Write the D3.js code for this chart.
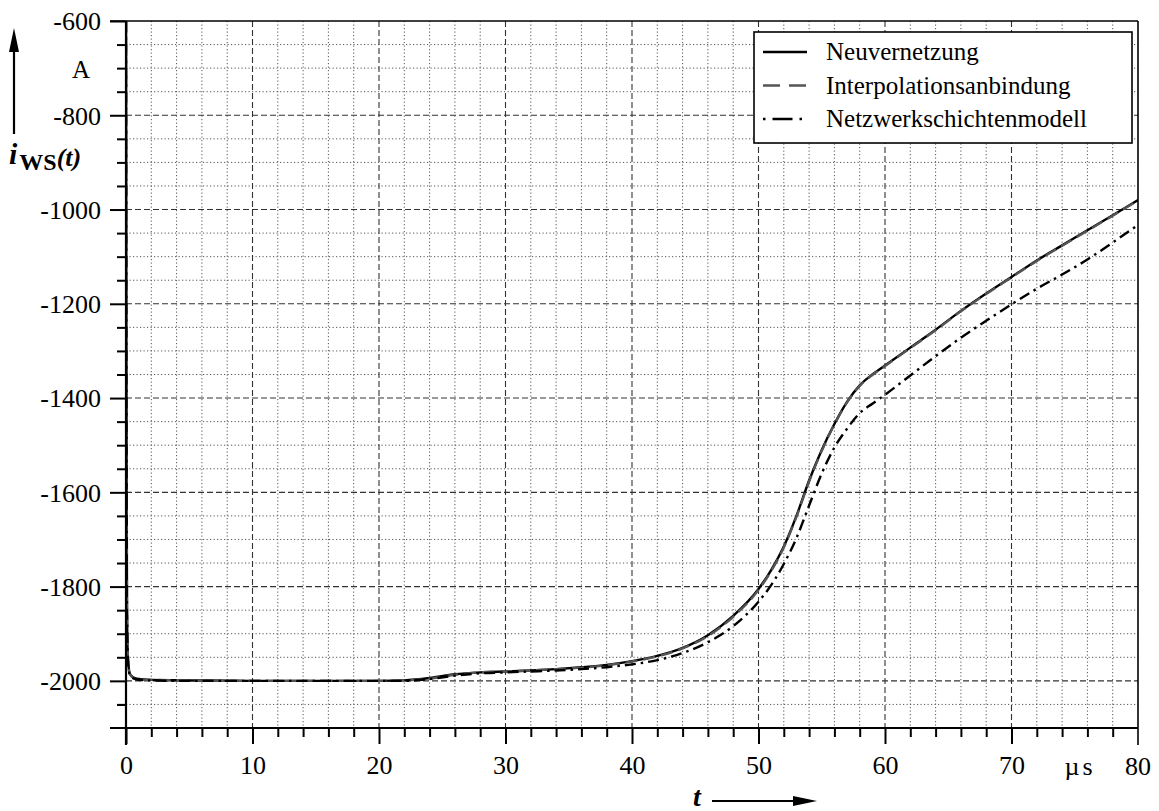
<!DOCTYPE html>
<html>
<head>
<meta charset="utf-8">
<script src="https://cdn.jsdelivr.net/npm/d3@7"></script>
<style>
  html, body { margin: 0; padding: 0; background: #fff; }
  svg { display: block; }
  svg text { font-family: "Liberation Serif", "DejaVu Serif", serif !important; fill: #000; }
</style>
</head>
<body>
<svg id="chart" width="1159" height="811"></svg>
<script>
// Time axis in µs, current in A
const timeTicks = [0, 10, 20, 30, 40, 50, 60, 70];
const currentTicks = [-600, -800, -1000, -1200, -1400, -1600, -1800, -2000];
const seriesNames = ["Neuvernetzung", "Interpolationsanbindung", "Netzwerkschichtenmodell"];

const tValues = [0, 0.03, 0.08, 0.15, 0.3, 0.6, 1, 2, 5, 10, 15, 20, 22, 24, 26, 28, 30, 32, 34, 36, 38, 40,
  42, 44, 46, 48, 50, 51, 52, 53, 54, 55, 56, 57, 58, 59, 60, 62, 64, 66, 68, 70, 72, 74, 76, 78, 80];

const neuvernetzung = [-600, -1300, -1850, -1950, -1985, -1993, -1996, -1998, -1999, -2000, -2000, -2000,
  -1999, -1994, -1986, -1982, -1980, -1978, -1975, -1971, -1966, -1958,
  -1947, -1930, -1903, -1862, -1805, -1765, -1715, -1650, -1575, -1510, -1455, -1408, -1373, -1350, -1331,
  -1293, -1255, -1215, -1178, -1143, -1108, -1076, -1044, -1012, -980];

const interpolationsanbindung = [-600, -1310, -1855, -1952, -1986, -1994, -1997, -1998, -1999, -2000, -2000, -2000,
  -1999, -1995, -1987, -1982, -1980, -1978, -1975, -1972, -1967, -1959,
  -1948, -1931, -1905, -1864, -1807, -1767, -1717, -1652, -1577, -1512, -1456, -1409, -1374, -1351, -1332,
  -1294, -1256, -1216, -1179, -1144, -1109, -1077, -1045, -1013, -981];

const netzwerkschichtenmodell = [-600, -1320, -1860, -1955, -1987, -1995, -1998, -1999, -2000, -2000, -2000, -2000,
  -2000, -1996, -1989, -1984, -1982, -1980, -1978, -1975, -1971, -1965,
  -1956, -1941, -1918, -1884, -1832, -1797, -1752, -1697, -1628, -1560, -1505, -1465, -1432, -1412, -1393,
  -1352, -1311, -1272, -1236, -1201, -1168, -1138, -1106, -1070, -1033];

const svg = d3.select("#chart");
const x = d3.scaleLinear().domain([0, 80]).range([126, 1138]);
const y = d3.scaleLinear().domain([-2100, -600]).range([728, 21]);
const [x0, x1] = x.range();
const [y0, y1] = y.range();
const serif = "Liberation Serif";

// Grid: dotted minor lines, dashed major lines
const grid = svg.append("g");
const minorX = d3.range(2, 80, 2).filter(v => v % 10 !== 0);
const minorY = d3.range(-2050, -600, 50).filter(v => v % 200 !== 0);
grid.selectAll(".mx").data(minorX).join("line")
  .attr("x1", d => x(d)).attr("x2", d => x(d)).attr("y1", y1).attr("y2", y0)
  .attr("stroke", "#555").attr("stroke-width", 1).attr("stroke-dasharray", "1.2,2.3");
grid.selectAll(".my").data(minorY).join("line")
  .attr("x1", x0).attr("x2", x1).attr("y1", d => y(d)).attr("y2", d => y(d))
  .attr("stroke", "#555").attr("stroke-width", 1).attr("stroke-dasharray", "1.2,2.3");
grid.selectAll(".Mx").data(timeTicks.slice(1)).join("line")
  .attr("x1", d => x(d)).attr("x2", d => x(d)).attr("y1", y1).attr("y2", y0)
  .attr("stroke", "#333").attr("stroke-width", 1.1).attr("stroke-dasharray", "6,3");
grid.selectAll(".My").data(currentTicks.slice(1)).join("line")
  .attr("x1", x0).attr("x2", x1).attr("y1", d => y(d)).attr("y2", d => y(d))
  .attr("stroke", "#333").attr("stroke-width", 1.1).attr("stroke-dasharray", "6,3");

// Curves
svg.append("clipPath").attr("id", "plotClip").append("rect")
  .attr("x", x0).attr("y", y1).attr("width", x1 - x0).attr("height", y0 - y1);

const line = d3.line().x((d, i) => x(tValues[i])).y(d => y(d)).curve(d3.curveMonotoneX);
const styles = [
  { data: neuvernetzung, color: "#000", dash: null, width: 2.4 },
  { data: interpolationsanbindung, color: "#555", dash: "12,6", width: 2.4 },
  { data: netzwerkschichtenmodell, color: "#000", dash: "11,5,2.5,5", width: 2.4 }
];
const curves = svg.append("g").attr("clip-path", "url(#plotClip)");
styles.forEach(s => {
  curves.append("path").attr("d", line(s.data)).attr("fill", "none")
    .attr("stroke", s.color).attr("stroke-width", s.width)
    .attr("stroke-dasharray", s.dash);
});

// Frame
const frame = svg.append("g").attr("stroke", "#000").attr("fill", "none");
frame.append("line").attr("x1", 110).attr("x2", x1).attr("y1", y1).attr("y2", y1).attr("stroke-width", 1.6);
frame.append("line").attr("x1", x1).attr("x2", x1).attr("y1", y1).attr("y2", 745).attr("stroke-width", 1.6);
frame.append("line").attr("x1", x0).attr("x2", x0).attr("y1", y1).attr("y2", 745).attr("stroke-width", 2.2);
frame.append("line").attr("x1", x0 - 16).attr("x2", x1).attr("y1", y0).attr("y2", y0).attr("stroke-width", 2.2);

// Y axis ticks (majors every 200, minors every 50)
const yAxis = d3.axisLeft(y).tickValues(currentTicks).tickSize(16).tickFormat(d3.format("d"));
const gy = svg.append("g").attr("transform", `translate(${x0},0)`).call(yAxis)
  .attr("font-family", serif).attr("font-size", 26);
gy.select(".domain").remove();
gy.selectAll(".tick line").attr("stroke-width", 2);
gy.selectAll(".tick text").attr("font-family", serif).attr("font-size", 26).attr("x", -25).attr("dy", "0.34em")
  .text(d => (d < 0 ? "-" : "") + Math.abs(d));
const yMinor = d3.axisLeft(y).tickValues(minorY.concat([-2050])).tickSize(9).tickFormat("");
const gym = svg.append("g").attr("transform", `translate(${x0},0)`).call(yMinor);
gym.select(".domain").remove();
gym.selectAll(".tick line").attr("stroke-width", 2);

// X axis ticks (majors every 10, minors every 2)
const xAxis = d3.axisBottom(x).tickValues(timeTicks).tickSize(16).tickFormat(d3.format("d"));
const gx = svg.append("g").attr("transform", `translate(0,${y0})`).call(xAxis)
  .attr("font-family", serif).attr("font-size", 26);
gx.select(".domain").remove();
gx.selectAll(".tick line").attr("stroke-width", 2);
gx.selectAll(".tick text").attr("font-family", serif).attr("font-size", 26).attr("y", 28).attr("dy", "0.71em");
const xMinor = d3.axisBottom(x).tickValues(minorX).tickSize(9).tickFormat("");
const gxm = svg.append("g").attr("transform", `translate(0,${y0})`).call(xMinor);
gxm.select(".domain").remove();
gxm.selectAll(".tick line").attr("stroke-width", 2);

// Last time label and unit
svg.append("text").attr("x", x(80)).attr("y", 775).attr("text-anchor", "middle")
  .attr("font-size", 26).text("80");
svg.append("text").attr("x", 1080).attr("y", 775).attr("text-anchor", "middle")
  .attr("font-size", 26).attr("letter-spacing", 3).text("µs");

// Y unit and quantity label with arrow
svg.append("text").attr("x", 81).attr("y", 78).attr("text-anchor", "middle")
  .attr("font-size", 25).text("A");
svg.append("line").attr("x1", 14).attr("x2", 14).attr("y1", 134).attr("y2", 40)
  .attr("stroke", "#000").attr("stroke-width", 2.2);
svg.append("path").attr("d", "M14,28 L9,52 L19,52 Z").attr("fill", "#000");

const yl = svg.append("text").attr("x", 9).attr("y", 164);
yl.append("tspan").attr("font-size", 30).attr("font-weight", "bold").attr("font-style", "italic").text("i");
yl.append("tspan").attr("font-size", 24).attr("font-weight", "bold").attr("dx", 2).attr("dy", 6).text("WS");
yl.append("tspan").attr("font-size", 26).attr("font-weight", "bold").attr("font-style", "italic").attr("dy", -4).text("(t)");

// X quantity label with arrow
svg.append("text").attr("x", 693).attr("y", 806).attr("font-size", 28)
  .attr("font-weight", "bold").attr("font-style", "italic").text("t");
svg.append("line").attr("x1", 712).attr("x2", 800).attr("y1", 801).attr("y2", 801)
  .attr("stroke", "#000").attr("stroke-width", 2.2);
svg.append("path").attr("d", "M817,801 L793,796 L793,806 Z").attr("fill", "#000");

// Legend
const legend = svg.append("g");
legend.append("rect").attr("x", 754).attr("y", 32).attr("width", 378).attr("height", 111)
  .attr("fill", "#fff").attr("stroke", "#000").attr("stroke-width", 1.6);
seriesNames.forEach((name, i) => {
  const cy = 52 + i * 33.5;
  const s = styles[i];
  legend.append("line").attr("x1", 763).attr("x2", 807).attr("y1", cy).attr("y2", cy)
    .attr("stroke", s.color).attr("stroke-width", 2.4)
    .attr("stroke-dasharray", i === 1 ? "17,9" : i === 2 ? "2.5,7,20,7,2.5,20" : null);
  legend.append("text").attr("x", 826).attr("y", cy + 8).attr("font-size", 25).text(name);
});
</script>
</body>
</html>
